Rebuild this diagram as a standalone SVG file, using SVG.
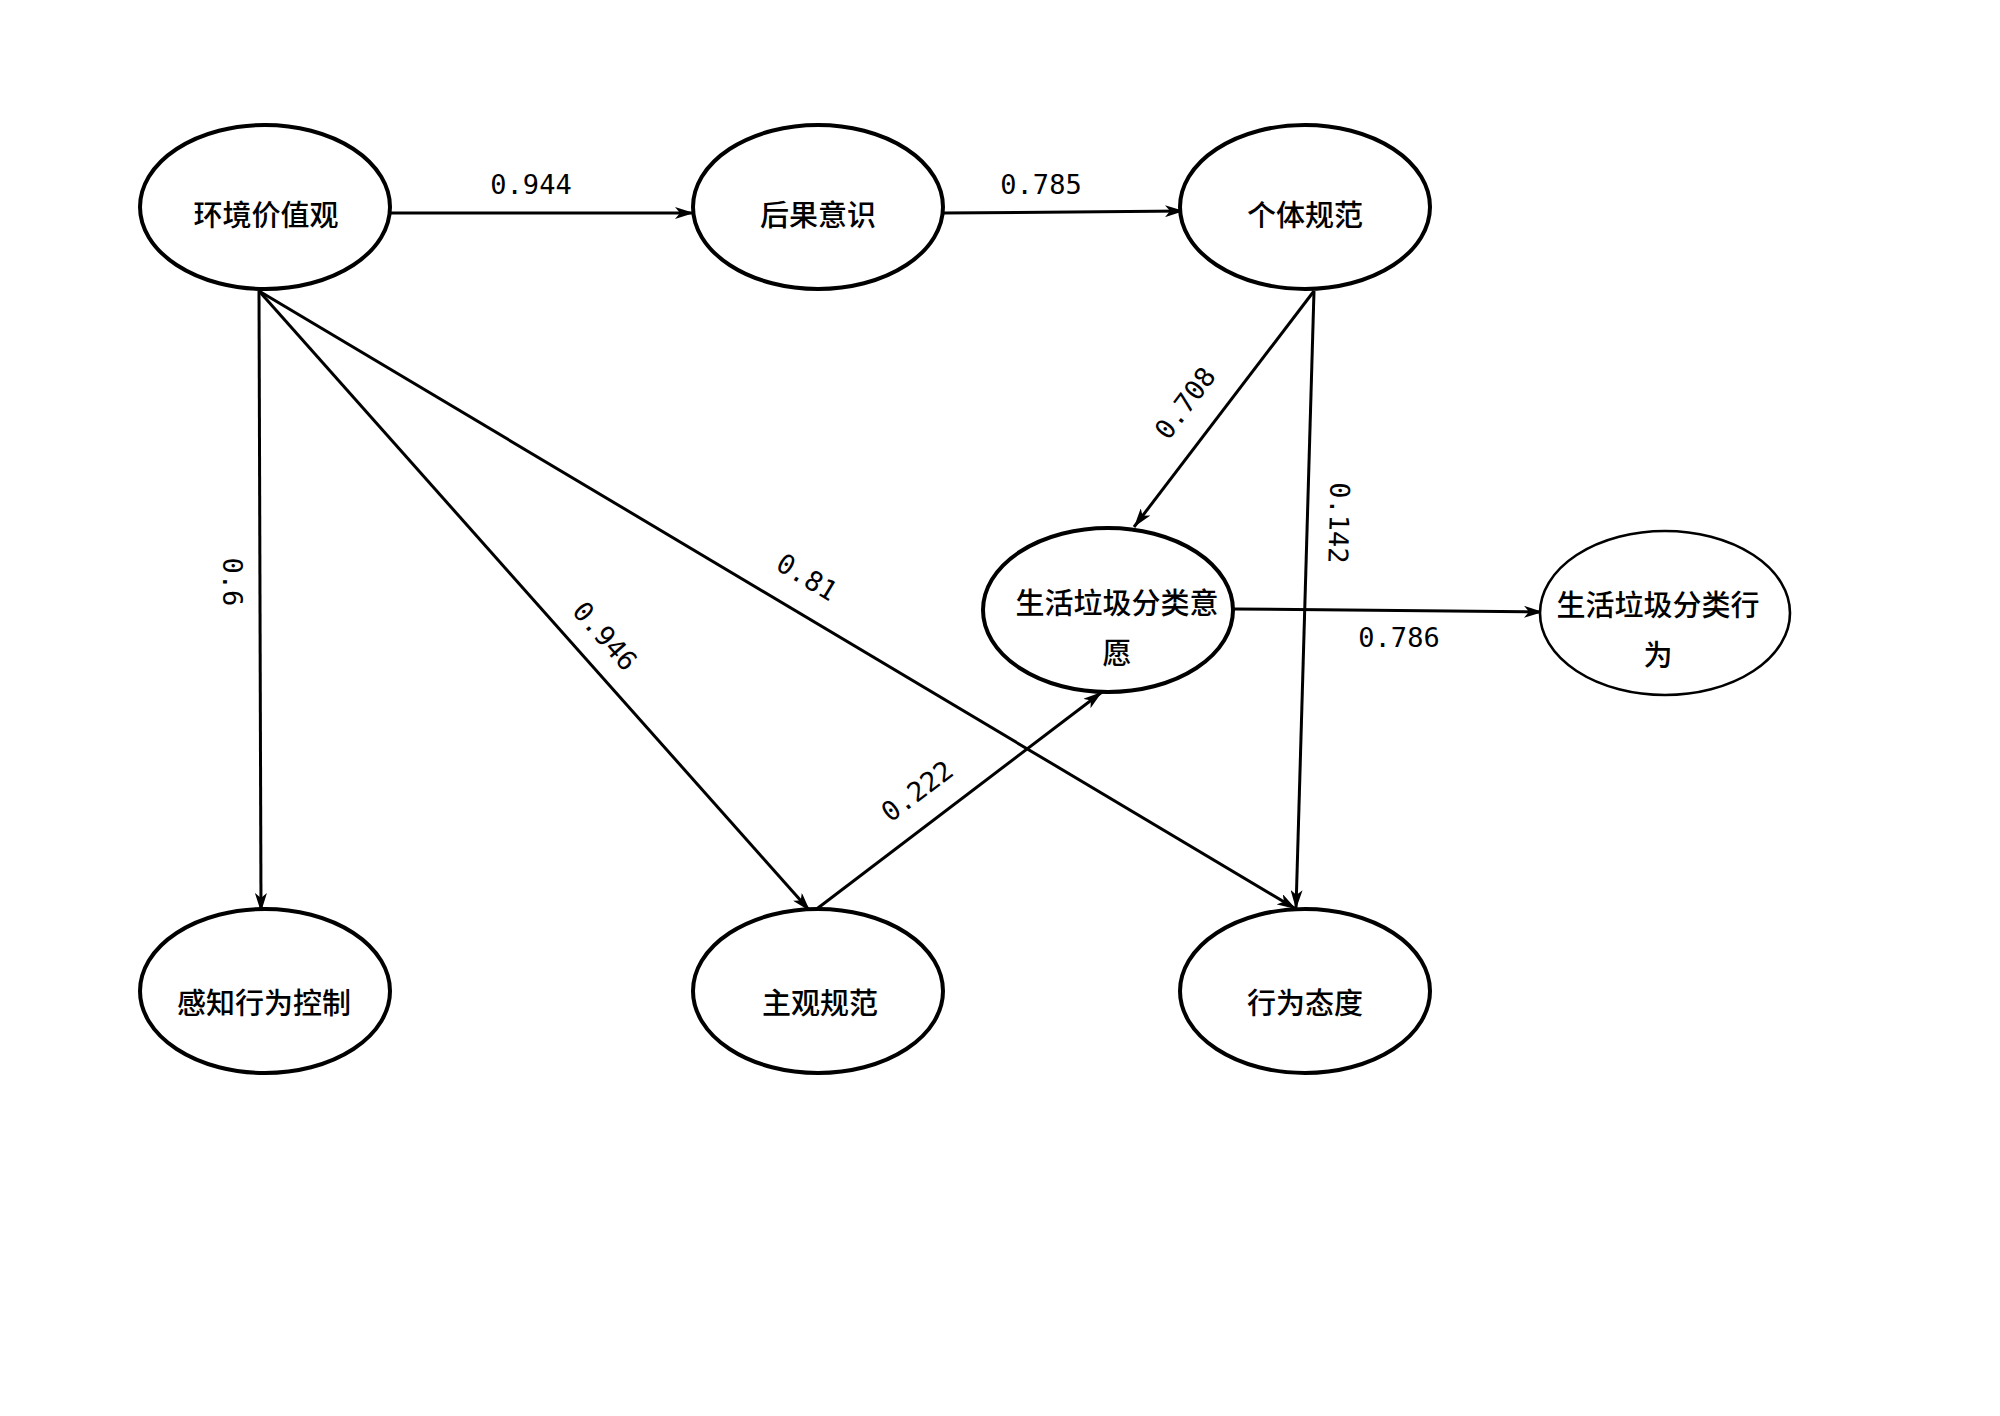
<svg xmlns="http://www.w3.org/2000/svg" width="2000" height="1416" viewBox="0 0 2000 1416">
<defs>
<style>
.node ellipse{fill:#fff;stroke:#000;stroke-width:4}
.node ellipse.thin{stroke-width:2.6}
.node text{font-family:"Noto Sans CJK SC","Noto Sans",sans-serif;font-size:29px;font-weight:500;text-anchor:middle;dominant-baseline:central;fill:#000}
.edge{stroke:#000;stroke-width:3;fill:none;marker-end:url(#arr)}
.lbl{font-family:"DejaVu Sans Mono","Liberation Mono",monospace;font-size:27px;text-anchor:middle;dominant-baseline:central;fill:#000}
</style>
<marker id="arr" markerUnits="userSpaceOnUse" markerWidth="20" markerHeight="12" viewBox="0 0 20 12" refX="19" refY="6" orient="auto">
<path d="M0,0 L19,6 L0,12 L5,6 z" fill="#000"/>
</marker>
</defs>
<rect width="2000" height="1416" fill="#fff"/>
<g id="connectors">
<line class="edge" x1="391" y1="213" x2="694" y2="213"/>
<line class="edge" x1="943" y1="213" x2="1184" y2="211"/>
<line class="edge" x1="1314" y1="291" x2="1134" y2="527"/>
<line class="edge" x1="1314" y1="291" x2="1296" y2="909"/>
<line class="edge" x1="259" y1="291" x2="261" y2="912"/>
<line class="edge" x1="259" y1="291" x2="810" y2="911"/>
<line class="edge" x1="259" y1="291" x2="1296" y2="909"/>
<line class="edge" x1="814" y1="911" x2="1102" y2="692"/>
<line class="edge" x1="1234" y1="609" x2="1543" y2="612"/>
<text class="lbl" x="531" y="184">0.944</text>
<text class="lbl" x="1041" y="184">0.785</text>
<text class="lbl" transform="translate(1185,403) rotate(-53)">0.708</text>
<text class="lbl" transform="translate(1339,523) rotate(91.5)">0.142</text>
<text class="lbl" transform="translate(232,582) rotate(90)">0.6</text>
<text class="lbl" transform="translate(605,636) rotate(48.4)">0.946</text>
<text class="lbl" transform="translate(807,577) rotate(31)">0.81</text>
<text class="lbl" transform="translate(917,791) rotate(-37)">0.222</text>
<text class="lbl" x="1399" y="637">0.786</text>
</g>
<g id="n1" class="node"><ellipse cx="265" cy="207" rx="125" ry="82"/><text x="266" y="213">环境价值观</text></g>
<g id="n2" class="node"><ellipse cx="818" cy="207" rx="125" ry="82"/><text x="818" y="213">后果意识</text></g>
<g id="n3" class="node"><ellipse cx="1305" cy="207" rx="125" ry="82"/><text x="1305" y="213">个体规范</text></g>
<g id="n4" class="node"><ellipse cx="1108" cy="610" rx="125" ry="82"/><text x="1117" y="601">生活垃圾分类意</text><text x="1117" y="651">愿</text></g>
<g id="n5" class="node"><ellipse class="thin" cx="1665" cy="613" rx="125" ry="82"/><text x="1658" y="603">生活垃圾分类行</text><text x="1658" y="653">为</text></g>
<g id="n6" class="node"><ellipse cx="265" cy="991" rx="125" ry="82"/><text x="264" y="1001">感知行为控制</text></g>
<g id="n7" class="node"><ellipse cx="818" cy="991" rx="125" ry="82"/><text x="820" y="1001">主观规范</text></g>
<g id="n8" class="node"><ellipse cx="1305" cy="991" rx="125" ry="82"/><text x="1305" y="1001">行为态度</text></g>
</svg>
